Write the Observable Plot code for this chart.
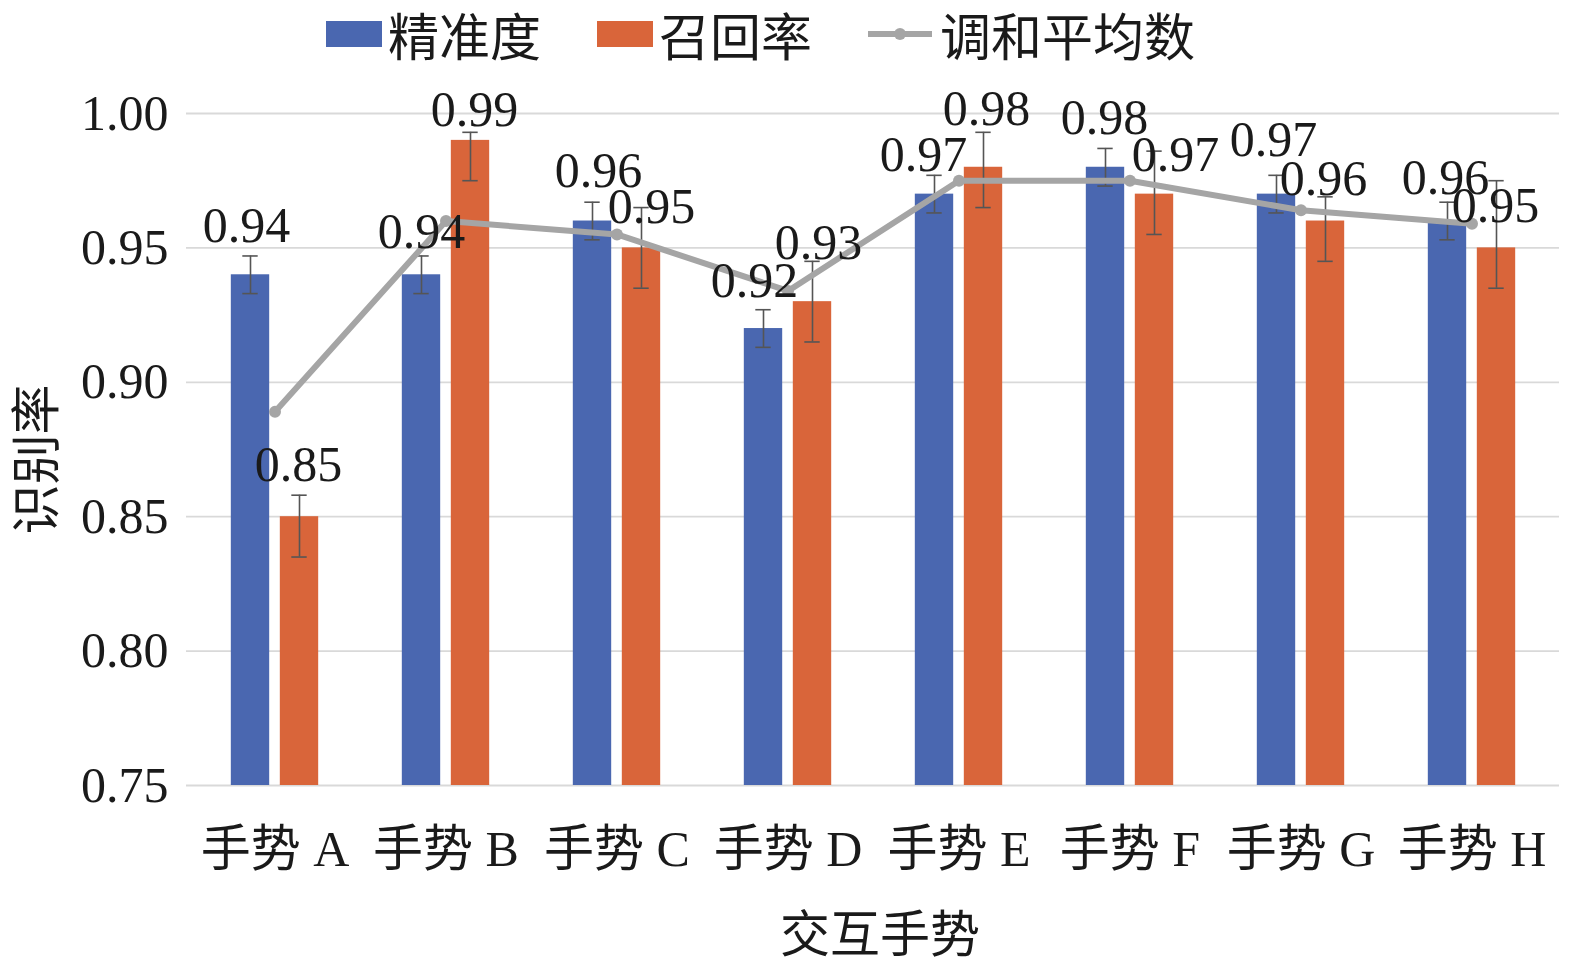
<!DOCTYPE html>
<html>
<head>
<meta charset="utf-8">
<script src="https://cdn.jsdelivr.net/npm/d3@7"></script>
<script src="https://cdn.jsdelivr.net/npm/@observablehq/plot@0.6"></script>
<style>
  html, body { margin: 0; padding: 0; background: #fff; }
  body { width: 1575px; height: 970px; overflow: hidden; font-family: 'Liberation Serif', 'Noto Sans CJK SC', serif; color: #1a1a1a; }
  #legend { height: 68px; display: flex; align-items: flex-start; padding-left: 326px; padding-top: 4px; font-size: 51px; font-family: 'Noto Sans CJK SC', sans-serif; line-height: 1.2; box-sizing: border-box; }
  .sw { width: 56px; height: 26px; margin-right: 6px; margin-top: 17px; }
  .ln { margin-right: 8px; margin-top: 20px; }
  .lab { margin-right: 56px; white-space: nowrap; }
  .lab:last-child { margin-right: 0; }
  #chart svg { display: block; }
</style>
</head>
<body>
<div id="legend"></div>
<div id="chart"></div>
<script>
// ---- data ----
const categories = ["手势 A", "手势 B", "手势 C", "手势 D", "手势 E", "手势 F", "手势 G", "手势 H"];
const seriesNames = ["精准度", "召回率", "调和平均数"];
const precision = [0.94, 0.94, 0.96, 0.92, 0.97, 0.98, 0.97, 0.96];
const recall = [0.85, 0.99, 0.95, 0.93, 0.98, 0.97, 0.96, 0.95];
const harmonic = [0.889, 0.96, 0.955, 0.934, 0.975, 0.975, 0.964, 0.959];
const precisionErr = [0.007, 0.007, 0.007, 0.007, 0.007, 0.007, 0.007, 0.007];
const recallErrUp = [0.008, 0.003, 0.015, 0.015, 0.013, 0.016, 0.009, 0.025];
const recallErrDown = [0.015, 0.015, 0.015, 0.015, 0.015, 0.015, 0.015, 0.015];
const yTicks = [0.75, 0.80, 0.85, 0.90, 0.95, 1.00];

// ---- styles (label nudges in px, as hand-placed in the reference) ----
const BLUE = "#4a67b0", ORANGE = "#d9653a", GREY = "#a5a5a5", ERR = "#555555", GRID = "#d9d9d9";
const FONT = "'Liberation Serif', 'Noto Sans CJK SC', serif";
const precLabelNudge = [[-4, -49], [0, -43], [6, -50], [-9, -48], [-11, -39], [-1, -49], [-3, -54], [-2, -43]];
const recLabelNudge = [[-1, -52], [4, -30], [10, -41], [6, -59], [3, -58], [21, -39], [-2, -42], [-1, -42]];

// legend
const legend = document.getElementById("legend");
legend.innerHTML =
  `<div class="sw" style="background:${BLUE}"></div><div class="lab">${seriesNames[0]}</div>` +
  `<div class="sw" style="background:${ORANGE}"></div><div class="lab">${seriesNames[1]}</div>` +
  `<svg class="ln" width="64" height="20"><line x1="0" y1="10" x2="64" y2="10" stroke="${GREY}" stroke-width="6"/><circle cx="32" cy="10" r="6" fill="${GREY}"/></svg><div class="lab">${seriesNames[2]}</div>`;

// tables
const precRows = categories.map((c, i) => ({cat: c, value: precision[i], lo: precision[i] - precisionErr[i], hi: precision[i] + precisionErr[i], nudge: precLabelNudge[i]}));
const recRows = categories.map((c, i) => ({cat: c, value: recall[i], lo: recall[i] - recallErrDown[i], hi: recall[i] + recallErrUp[i], nudge: recLabelNudge[i]}));
const hmRows = categories.map((c, i) => ({cat: c, value: harmonic[i]}));

const W = 1575, H = 902, ML = 186, MR = 16, MT = 45, MB = 185;
const step = (W - ML - MR) / categories.length;
const barW = 39, gap = 10, off = (barW + gap) / 2, capW = 16;
const insetsFor = (k, w) => { const c = step / 2 + k * off; return {insetLeft: c - w / 2, insetRight: step - c - w / 2}; };
const fmt = d3.format(".2f");

function seriesMarks(rows, k, color) {
  return [
    Plot.barY(rows, {x: "cat", y1: 0.75, y2: "value", fill: color, ...insetsFor(k, barW)}),
    Plot.ruleX(rows, {x: "cat", y1: "lo", y2: "hi", dx: k * off, stroke: ERR, strokeWidth: 1.6}),
    Plot.tickY(rows, {x: "cat", y: "lo", stroke: ERR, strokeWidth: 1.6, ...insetsFor(k, capW)}),
    Plot.tickY(rows, {x: "cat", y: "hi", stroke: ERR, strokeWidth: 1.6, ...insetsFor(k, capW)})
  ];
}
function labelMarks(rows, k) {
  return rows.map(r => Plot.text([r], {x: "cat", y: "value", text: d => fmt(d.value), dx: k * off + r.nudge[0], dy: r.nudge[1], fill: "#1a1a1a"}));
}

const chart = Plot.plot({
  width: W, height: H,
  marginLeft: ML, marginRight: MR, marginTop: MT, marginBottom: MB,
  style: {fontFamily: FONT, fontSize: "50px", color: "#1a1a1a", background: "white", overflow: "visible"},
  x: {domain: categories, padding: 0, label: null},
  y: {domain: [0.75, 1.0], label: null},
  marks: [
    Plot.gridY(yTicks, {stroke: GRID, strokeOpacity: 1, strokeWidth: 1.8}),
    Plot.axisY(yTicks, {tickFormat: fmt, tickSize: 0, tickPadding: 18, label: null, fill: "#1a1a1a"}),
    Plot.axisX({tickSize: 0, tickPadding: 45, label: null, fill: "#1a1a1a"}),
    ...seriesMarks(precRows, -1, BLUE),
    ...seriesMarks(recRows, 1, ORANGE),
    Plot.line(hmRows, {x: "cat", y: "value", stroke: GREY, strokeWidth: 6}),
    Plot.dot(hmRows, {x: "cat", y: "value", r: 6, fill: GREY}),
    ...labelMarks(precRows, -1),
    ...labelMarks(recRows, 1),
    Plot.text(["识别率"], {text: d => d, frameAnchor: "left", textAnchor: "middle", lineAnchor: "middle", dx: -149, dy: 10, rotate: -90, fill: "#1a1a1a"}),
    Plot.text(["交互手势"], {text: d => d, frameAnchor: "bottom", textAnchor: "middle", lineAnchor: "middle", dy: 150, dx: 7, fill: "#1a1a1a"})
  ]
});
document.getElementById("chart").appendChild(chart);
</script>
</body>
</html>
